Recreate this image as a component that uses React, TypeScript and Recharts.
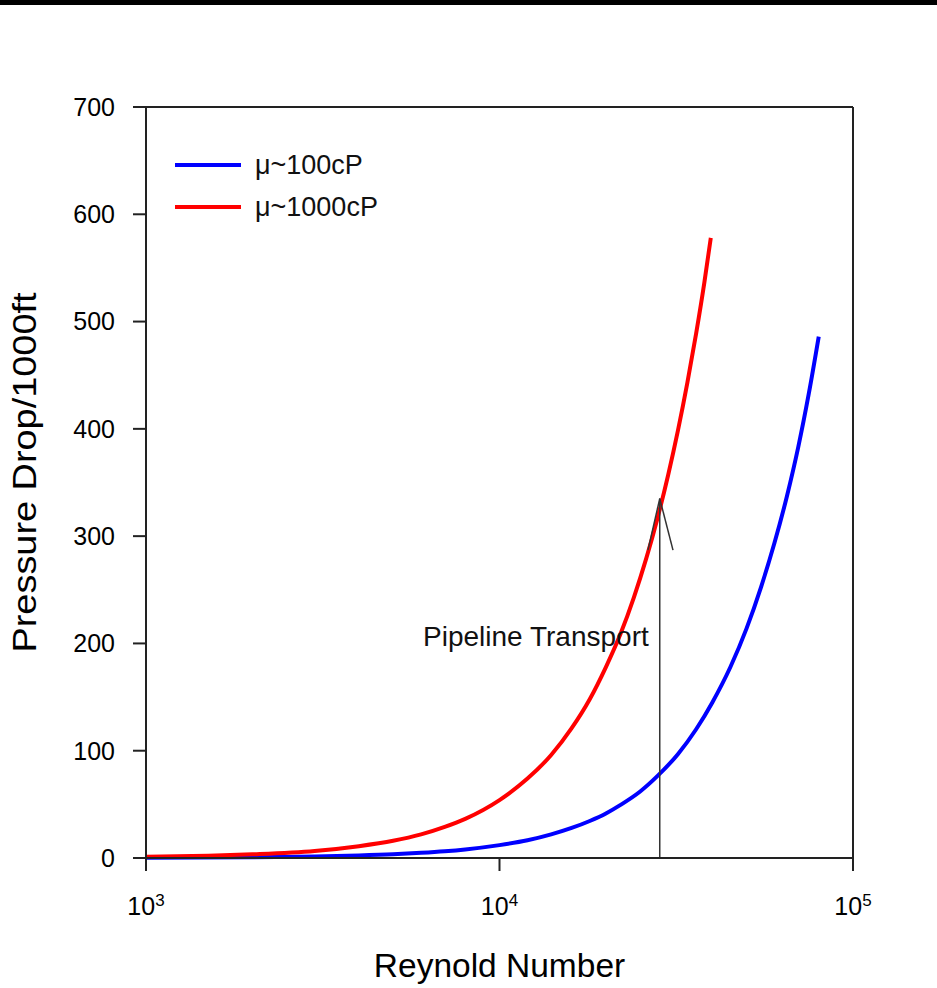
import React from 'react';
import { LineChart, Line, XAxis, YAxis, ReferenceLine, ReferenceDot, Legend, Label } from 'recharts';

const re100 = [1000, 2000, 3000, 4000, 5000, 6000, 7000, 8000, 10000, 12000, 14000, 16000, 18000, 20000, 22000, 25000, 28000, 32000, 36000, 40000, 45000, 50000, 55000, 60000, 65000, 70000, 75000, 80000];
const dp100 = [0.2, 0.7, 1.4, 2.3, 3.4, 4.8, 6.3, 8, 12, 16.5, 22, 28, 34.5, 41.5, 49.5, 62, 76.5, 97, 120, 145, 178, 214, 253, 294, 337, 383, 433, 486];

const re1000 = [1000, 1500, 2000, 3000, 4000, 5000, 6000, 7000, 8000, 10000, 12000, 14000, 16000, 18000, 20000, 22000, 24000, 26000, 28000, 30000, 32000, 34000, 36000, 38000, 39600];
const dp1000 = [1.1, 2.1, 3.4, 6.5, 11, 16, 22, 29, 36.5, 54, 74, 96, 121, 148, 178, 209, 243, 279, 317, 357, 399, 443, 489, 537, 578];

const seriesNames = ['\u03bc~100cP', '\u03bc~1000cP'];
const seriesColors = ['#0000ff', '#ff0000'];
const xTicks = [1000, 10000, 100000];
const yTicks = [0, 100, 200, 300, 400, 500, 600, 700];
const xDomain = [1000, 100000];
const yDomain = [0, 700];

const arrowX = 28400;
const arrowTop = 335;
const arrowHeadY = 287;
const arrowHeadLeftX = 26300;
const arrowHeadRightX = 30960;
const noteText = 'Pipeline Transport';
const noteY = 198;

const xTitle = 'Reynold Number';
const yTitle = 'Pressure Drop/1000ft';

const data100 = re100.map((re, i) => ({ re, dp: dp100[i] }));
const data1000 = re1000.map((re, i) => ({ re, dp: dp1000[i] }));

const FONT = '"Liberation Sans", Arial, Helvetica, sans-serif';
const AXIS = '#222';

const LogTick = (props: any) => {
  const { x, y, payload } = props;
  const exp = Math.round(Math.log10(payload.value));
  return (
    <text x={x} y={y} dy={40} textAnchor="middle" fontFamily={FONT} fontSize={25} fill="#000">
      <tspan>10</tspan>
      <tspan dy={-9} fontSize={17}>{exp}</tspan>
    </text>
  );
};

const renderLegend = (props: any) => {
  const payload = [...(props.payload || [])].sort(
    (a: any, b: any) => seriesNames.indexOf(a.value) - seriesNames.indexOf(b.value)
  );
  return (
    <div style={{ display: 'flex', flexDirection: 'column' }}>
      {payload.map((entry: any) => (
        <div key={entry.value} style={{ display: 'flex', alignItems: 'center', height: 42 }}>
          <svg width={66} height={8} style={{ display: 'block' }}>
            <line x1={0} y1={4} x2={66} y2={4} stroke={entry.color} strokeWidth={4} />
          </svg>
          <span style={{ marginLeft: 14, fontSize: 27, fontFamily: FONT, color: '#111', lineHeight: 1, whiteSpace: 'nowrap' }}>
            {entry.value}
          </span>
        </div>
      ))}
    </div>
  );
};

const YTitle = (p: any) => {
  const vb = p.viewBox;
  const cx = vb.x - 10;
  const cy = vb.y + vb.height / 2 - 10;
  return (
    <text
      x={cx}
      y={cy}
      transform={`rotate(-90, ${cx}, ${cy})`}
      textAnchor="middle"
      fontFamily={FONT}
      fontSize={34}
      textLength={360}
      lengthAdjust="spacingAndGlyphs"
      fill="#000"
    >
      {yTitle}
    </text>
  );
};

const XTitle = (p: any) => {
  const vb = p.viewBox;
  return (
    <text x={vb.x + vb.width / 2} y={vb.y + 119} textAnchor="middle" fontFamily={FONT} fontSize={33.5} fill="#000">
      {xTitle}
    </text>
  );
};

const NoteLabel = (p: any) => {
  const vb = p.viewBox;
  return (
    <text x={vb.x - 11} y={vb.y} textAnchor="end" fontFamily={FONT} fontSize={28} fill="#111">
      {noteText}
    </text>
  );
};

export default function App() {
  return (
    <div style={{ position: 'absolute', left: 0, top: 0, width: 937, height: 988, background: '#fff' }}>
      <div style={{ position: 'absolute', left: 0, top: 0, width: 937, height: 5, background: '#000', zIndex: 2 }} />
      <LineChart width={937} height={988} margin={{ top: 107, right: 84, bottom: 50, left: 46 }}>
        <XAxis
          dataKey="re"
          type="number"
          scale="log"
          domain={xDomain}
          ticks={xTicks}
          allowDataOverflow
          height={80}
          tickSize={13}
          tickMargin={4}
          axisLine={{ stroke: AXIS, strokeWidth: 2 }}
          tickLine={{ stroke: AXIS, strokeWidth: 2 }}
          tick={<LogTick />}
        >
          <Label content={<XTitle />} />
        </XAxis>
        <YAxis
          type="number"
          domain={yDomain}
          ticks={yTicks}
          width={100}
          tickSize={13}
          tickMargin={18}
          axisLine={{ stroke: AXIS, strokeWidth: 2 }}
          tickLine={{ stroke: AXIS, strokeWidth: 2 }}
          tick={{ fontSize: 25, fill: '#000', fontFamily: FONT }}
        >
          <Label content={<YTitle />} />
        </YAxis>
        <ReferenceLine y={yDomain[1]} stroke={AXIS} strokeWidth={2} />
        <ReferenceLine x={xDomain[1]} stroke={AXIS} strokeWidth={2} />
        <Legend
          layout="vertical"
          align="center"
          verticalAlign="middle"
          content={renderLegend}
          wrapperStyle={{ left: 175, top: 144, width: 'auto', height: 'auto' }}
        />
        <Line data={data100} dataKey="dp" name={seriesNames[0]} stroke={seriesColors[0]} strokeWidth={4} dot={false} type="monotone" isAnimationActive={false} />
        <Line data={data1000} dataKey="dp" name={seriesNames[1]} stroke={seriesColors[1]} strokeWidth={4} dot={false} type="monotone" isAnimationActive={false} />
        <ReferenceLine segment={[{ x: arrowX, y: 0 }, { x: arrowX, y: arrowTop }]} stroke="#333" strokeWidth={1.5} />
        <ReferenceLine segment={[{ x: arrowHeadLeftX, y: arrowHeadY }, { x: arrowX, y: arrowTop }]} stroke="#333" strokeWidth={1.5} />
        <ReferenceLine segment={[{ x: arrowX, y: arrowTop }, { x: arrowHeadRightX, y: arrowHeadY }]} stroke="#333" strokeWidth={1.5} />
        <ReferenceDot x={arrowX} y={noteY} r={0} fill="none" stroke="none" label={<NoteLabel />} />
      </LineChart>
    </div>
  );
}
